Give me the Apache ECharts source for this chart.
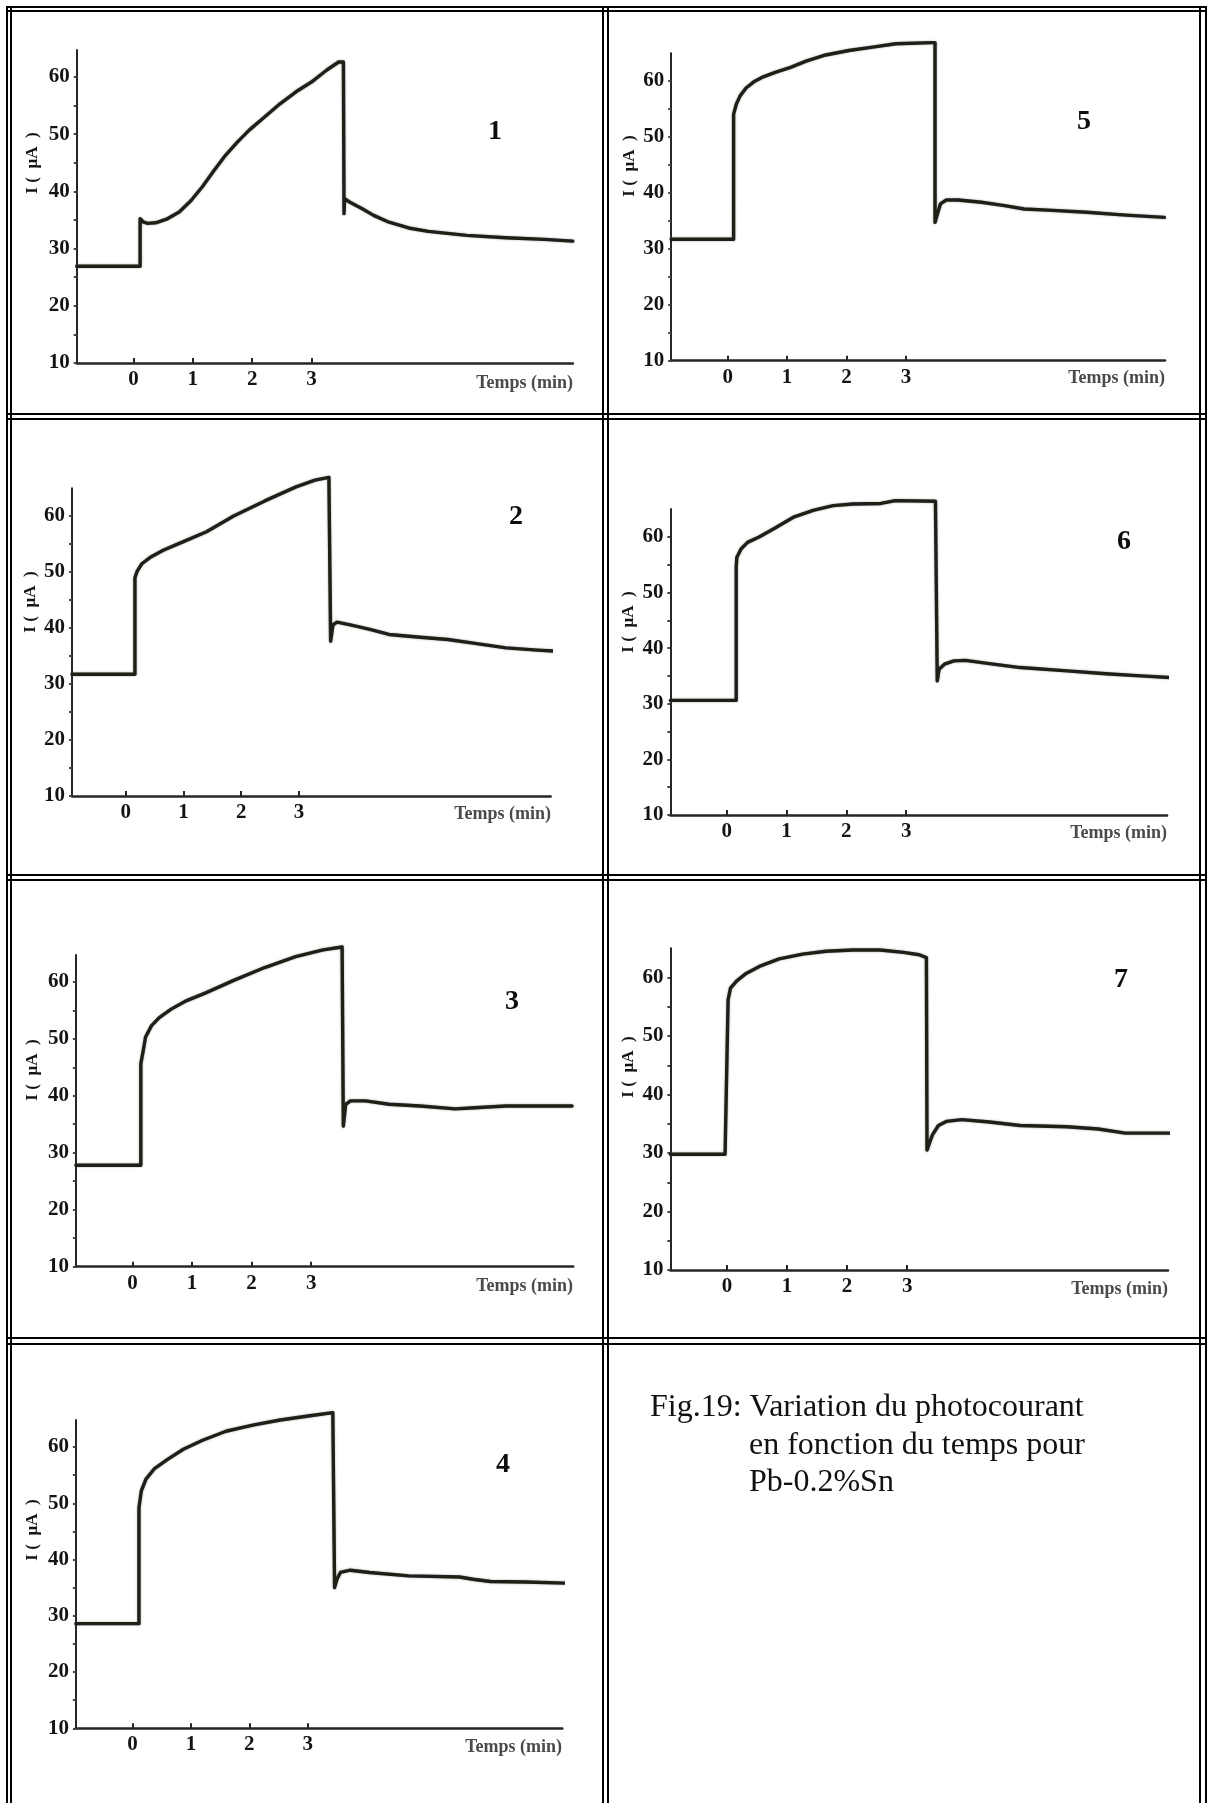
<!DOCTYPE html>
<html>
<head>
<meta charset="utf-8">
<title>Fig.19 – photocourant Pb-0.2%Sn</title>
<script src="https://cdn.jsdelivr.net/npm/echarts@6/dist/echarts.min.js"></script>
<style>
  html, body { margin: 0; padding: 0; background: #ffffff; }
  #fig { width: 1213px; height: 1803px; }
</style>
</head>
<body>
<div id="fig"></div>
<script>
// ---- data -------------------------------------------------------------
const panelLabels = ['1', '2', '3', '4', '5', '6', '7'];
const xTickValues = [0, 1, 2, 3];                     // minutes
const yTickValues = [10, 20, 30, 40, 50, 60];         // µA
const yTickMarks  = [10, 15, 20, 25, 30, 35, 40, 45, 50, 55, 60];

// time (min) / current (µA) readings for each measurement
const t1 = [-0.96, 0.11, 0.11, 0.17, 0.24, 0.37, 0.57, 0.77, 0.97, 1.16, 1.36, 1.55, 1.75, 1.95, 2.21, 2.47, 2.74, 3.00, 3.26, 3.46, 3.54, 3.55, 3.56, 3.65, 3.85, 4.05, 4.31, 4.64, 4.97, 5.62, 6.28, 6.93, 7.41];
const i1 = [26.9, 26.9, 35.2, 34.6, 34.4, 34.5, 35.2, 36.4, 38.4, 40.8, 43.7, 46.3, 48.6, 50.7, 53.0, 55.3, 57.4, 59.1, 61.2, 62.6, 62.6, 36.1, 38.7, 38.1, 37.0, 35.8, 34.6, 33.6, 33.0, 32.3, 31.9, 31.6, 31.3];

const t2 = [-0.93, 0.16, 0.16, 0.20, 0.28, 0.42, 0.65, 0.99, 1.40, 1.87, 2.41, 2.95, 3.28, 3.52, 3.55, 3.55, 3.59, 3.66, 3.89, 4.23, 4.56, 5.10, 5.58, 6.05, 6.59, 7.13, 7.49];
const i2 = [31.7, 31.7, 48.9, 50.1, 51.4, 52.5, 53.8, 55.3, 57.1, 59.9, 62.6, 65.1, 66.3, 66.8, 66.6, 37.6, 40.5, 41.0, 40.5, 39.7, 38.8, 38.3, 37.9, 37.2, 36.4, 36.0, 35.8];

const t3 = [-0.95, 0.14, 0.14, 0.18, 0.22, 0.32, 0.45, 0.65, 0.91, 1.24, 1.69, 2.22, 2.74, 3.20, 3.52, 3.54, 3.54, 3.58, 3.66, 3.91, 4.31, 4.83, 5.42, 5.75, 6.27, 7.38];
const i3 = [27.8, 27.8, 45.6, 47.9, 50.3, 52.3, 53.7, 55.2, 56.7, 58.1, 60.2, 62.5, 64.4, 65.6, 66.1, 66.0, 34.7, 38.5, 39.1, 39.1, 38.5, 38.2, 37.7, 37.9, 38.2, 38.2];

const t4 = [-0.97, 0.11, 0.11, 0.15, 0.23, 0.37, 0.60, 0.87, 1.20, 1.60, 2.06, 2.53, 3.07, 3.43, 3.46, 3.46, 3.50, 3.56, 3.73, 4.06, 4.73, 5.60, 5.83, 6.13, 6.73, 7.43];
const i4 = [28.6, 28.6, 49.2, 52.2, 54.3, 56.1, 57.8, 59.6, 61.2, 62.8, 63.9, 64.8, 65.6, 66.1, 65.9, 35.0, 36.5, 37.7, 38.1, 37.7, 37.1, 36.9, 36.5, 36.1, 36.0, 35.8];

const t5 = [-0.95, 0.10, 0.10, 0.145, 0.21, 0.31, 0.44, 0.60, 0.80, 1.06, 1.32, 1.65, 2.04, 2.44, 2.83, 3.45, 3.49, 3.49, 3.53, 3.58, 3.68, 3.88, 4.27, 4.66, 4.99, 5.39, 6.04, 6.70, 7.35];
const i5 = [31.7, 31.7, 54.0, 55.8, 57.3, 58.7, 59.8, 60.7, 61.5, 62.4, 63.5, 64.6, 65.4, 66.0, 66.6, 66.8, 66.8, 34.7, 36.2, 38.0, 38.7, 38.7, 38.3, 37.7, 37.1, 36.9, 36.5, 36.0, 35.6];

const t6 = [-0.94, 0.16, 0.16, 0.17, 0.24, 0.35, 0.55, 0.81, 1.13, 1.46, 1.78, 2.11, 2.58, 2.82, 3.49, 3.52, 3.52, 3.55, 3.64, 3.80, 3.99, 4.39, 4.91, 5.69, 6.34, 6.92, 7.44];
const i6 = [30.6, 30.6, 54.5, 56.3, 57.8, 59.0, 60.0, 61.6, 63.6, 64.8, 65.6, 65.9, 66.0, 66.5, 66.4, 66.2, 34.1, 36.2, 37.1, 37.7, 37.8, 37.2, 36.5, 35.9, 35.4, 35.0, 34.7];

const t7 = [-0.94, -0.03, 0.02, 0.06, 0.16, 0.32, 0.54, 0.87, 1.26, 1.65, 2.10, 2.55, 2.94, 3.20, 3.32, 3.33, 3.36, 3.42, 3.52, 3.65, 3.91, 4.37, 4.88, 5.66, 6.18, 6.63, 7.38];
const i7 = [29.8, 29.8, 56.2, 58.2, 59.4, 60.7, 61.9, 63.2, 64.0, 64.5, 64.7, 64.7, 64.3, 63.9, 63.4, 30.5, 31.4, 33.1, 34.7, 35.4, 35.7, 35.3, 34.7, 34.5, 34.1, 33.4, 33.4];

const seriesT = [t1, t2, t3, t4, t5, t6, t7];
const seriesI = [i1, i2, i3, i4, i5, i6, i7];

// ---- layout of the seven plots inside the table ---------------------------
// left/top/width/height: plotting box in px; xMin/xMax/yMax: axis extents;
// num: panel number anchor; yName: axis title anchor; xName: right end / centre of "Temps (min)"
const layout = [
  { left: 76.7,  top: 50,    width: 496.1, height: 313,   xMin: -0.96, xMax: 7.41, yMax: 64.7,  num: [495, 132],   yName: [33, 163],   xName: [573, 383] },
  { left: 72,    top: 488.3, width: 478.6, height: 307.7, xMin: -0.93, xMax: 7.36, yMax: 64.85, num: [516, 517],   yName: [31, 602],   xName: [551, 814] },
  { left: 75.9,  top: 955,   width: 497.3, height: 311.7, xMin: -0.95, xMax: 7.40, yMax: 64.7,  num: [512, 1002],  yName: [33, 1070],  xName: [573, 1286] },
  { left: 75.9,  top: 1420,  width: 486.4, height: 308.3, xMin: -0.97, xMax: 7.36, yMax: 64.8,  num: [503, 1465],  yName: [33, 1530],  xName: [562, 1747] },
  { left: 671.2, top: 53.3,  width: 493.8, height: 307.4, xMin: -0.95, xMax: 7.36, yMax: 64.9,  num: [1084, 122],  yName: [630, 166],  xName: [1165, 378] },
  { left: 670.4, top: 509,   width: 496.6, height: 306,   xMin: -0.94, xMax: 7.36, yMax: 65.0,  num: [1124, 542],  yName: [629, 622],  xName: [1167, 833] },
  { left: 670.4, top: 948.3, width: 497.6, height: 321.7, xMin: -0.94, xMax: 7.34, yMax: 65.0,  num: [1121, 980],  yName: [629, 1067], xName: [1168, 1289] }
];

const SERIF = "'Liberation Serif', 'Times New Roman', serif";
const INK = '#1f1f1a';
const AXIS = '#262626';

const grids = [], xAxes = [], yAxes = [], series = [], graphics = [];

layout.forEach((L, k) => {
  grids.push({ left: L.left, top: L.top, width: L.width, height: L.height, containLabel: false });

  xAxes.push({
    gridIndex: k, type: 'value', min: L.xMin, max: L.xMax,
    axisLine: { show: true, onZero: false, lineStyle: { color: AXIS, width: 2.6 } },
    axisTick: { show: true, inside: true, length: 5, customValues: xTickValues, lineStyle: { color: AXIS, width: 2 } },
    axisLabel: { show: true, customValues: xTickValues, margin: 6, fontFamily: SERIF, fontWeight: 'bold', fontSize: 21, color: '#141414' },
    splitLine: { show: false }
  });

  yAxes.push({
    gridIndex: k, type: 'value', min: 10, max: L.yMax,
    axisLine: { show: true, onZero: false, lineStyle: { color: AXIS, width: 2 } },
    axisTick: { show: true, inside: false, length: 3, customValues: yTickMarks, lineStyle: { color: '#444', width: 2 } },
    axisLabel: { show: true, customValues: yTickValues, margin: 7, fontFamily: SERIF, fontWeight: 'bold', fontSize: 21, color: '#141414' },
    splitLine: { show: false }
  });

  const t = seriesT[k], cur = seriesI[k];
  series.push({
    name: panelLabels[k], type: 'line', xAxisIndex: k, yAxisIndex: k,
    data: t.map((v, j) => [v, cur[j]]),
    showSymbol: false, clip: false, smooth: false, animation: false,
    lineStyle: { color: INK, width: 3.4, join: 'round', cap: 'round', shadowColor: 'rgba(70,70,50,0.55)', shadowBlur: 2 }
  });

  // panel number
  graphics.push({
    type: 'text', x: L.num[0], y: L.num[1], z: 10,
    style: { text: panelLabels[k], font: `bold 28px ${SERIF}`, fill: '#0d0d0d', align: 'center', verticalAlign: 'middle' }
  });
  // vertical axis title
  graphics.push({
    type: 'text', x: L.yName[0], y: L.yName[1], rotation: Math.PI / 2, z: 10,
    style: { text: 'I (  µA  )', font: `bold 17px ${SERIF}`, fill: '#141414', align: 'center', verticalAlign: 'middle' }
  });
  // horizontal axis title
  graphics.push({
    type: 'text', x: L.xName[0], y: L.xName[1], z: 10,
    style: { text: 'Temps (min)', font: `bold 18px ${SERIF}`, fill: '#4a4a4a', align: 'right', verticalAlign: 'middle' }
  });
});

// ---- double-ruled table frame -------------------------------------------
const hRules = [7, 11, 414, 419, 875, 880, 1338, 1344];
const vRules = [7, 11, 603, 608, 1200, 1206];
hRules.forEach(y => graphics.push({
  type: 'line', z: 20, shape: { x1: 6, y1: y, x2: 1207, y2: y }, style: { stroke: '#000', lineWidth: 2 }
}));
vRules.forEach(x => graphics.push({
  type: 'line', z: 20, shape: { x1: x, y1: 6, x2: x, y2: 1803 }, style: { stroke: '#000', lineWidth: 2 }
}));

// ---- caption ------------------------------------------------------------
const captionLines = [
  { text: 'Fig.19: Variation du photocourant', x: 650, y: 1408 },
  { text: 'en fonction du temps pour', x: 749, y: 1446 },
  { text: 'Pb-0.2%Sn', x: 749, y: 1483 }
];
captionLines.forEach(c => graphics.push({
  type: 'text', x: c.x, y: c.y, z: 10,
  style: { text: c.text, font: `32px ${SERIF}`, fill: '#111', align: 'left', verticalAlign: 'middle' }
}));

const chart = echarts.init(document.getElementById('fig'), null, { renderer: 'canvas' });
chart.setOption({
  animation: false,
  backgroundColor: '#ffffff',
  grid: grids,
  xAxis: xAxes,
  yAxis: yAxes,
  series: series,
  graphic: graphics
});
</script>
</body>
</html>
